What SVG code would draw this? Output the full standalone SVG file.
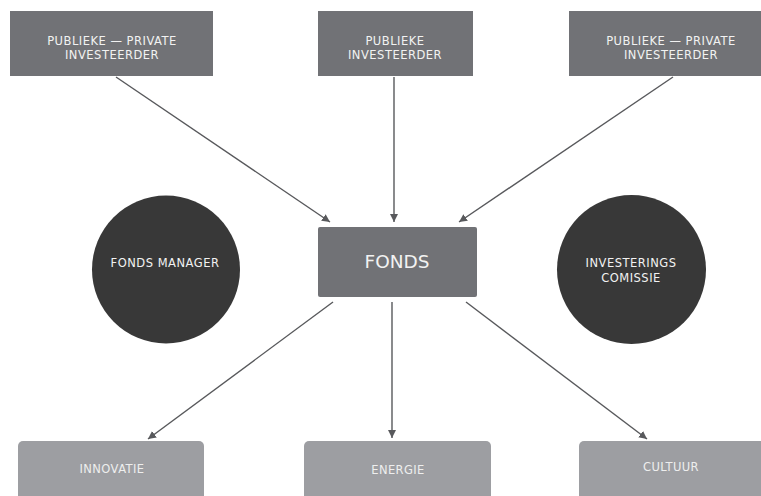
<svg xmlns="http://www.w3.org/2000/svg" width="761" height="496" viewBox="0 0 761 496">
<style>
.top{fill:#717276}
.bot{fill:#9d9ea2}
.circ{fill:#383838}
.t{font-family:"DejaVu Sans","Liberation Sans",sans-serif;fill:#f2f2f2;text-anchor:middle}
.s{font-size:11.5px;letter-spacing:0.5px}
.b{font-size:11.5px;letter-spacing:0.4px;fill:#eeeeee}
.con line{stroke:#58595c;stroke-width:1.4;marker-end:url(#ah)}
</style>
<defs>
<marker id="ah" viewBox="0 0 10 10" refX="10" refY="5" markerWidth="8" markerHeight="8" markerUnits="userSpaceOnUse" orient="auto">
<path d="M0,0 L10,5 L0,10 z" fill="#58595c"/>
</marker>
</defs>
<rect width="761" height="496" fill="#ffffff"/>
<g id="inv-left">
<rect class="top" x="10" y="11" width="203" height="65"/>
<text class="t s" x="112" y="45">PUBLIEKE — PRIVATE</text>
<text class="t s" x="112" y="59">INVESTEERDER</text>
</g>
<g id="inv-mid">
<rect class="top" x="318" y="11" width="155" height="65"/>
<text class="t s" x="395" y="45">PUBLIEKE</text>
<text class="t s" x="395" y="59">INVESTEERDER</text>
</g>
<g id="inv-right">
<rect class="top" x="569" y="11" width="204" height="65"/>
<text class="t s" x="671" y="45">PUBLIEKE — PRIVATE</text>
<text class="t s" x="671" y="59">INVESTEERDER</text>
</g>
<g id="fonds-manager">
<circle class="circ" cx="166" cy="269.5" r="74"/>
<text class="t s" x="165" y="267">FONDS MANAGER</text>
</g>
<g id="fonds">
<rect class="top" x="318" y="227" width="159" height="70" rx="2"/>
<text class="t" x="397" y="268" font-size="18.5">FONDS</text>
</g>
<g id="investerings-comissie">
<circle class="circ" cx="631.5" cy="269.5" r="74.5"/>
<text class="t s" x="631" y="267">INVESTERINGS</text>
<text class="t s" x="631" y="282">COMISSIE</text>
</g>
<g id="innovatie">
<rect class="bot" x="18" y="441" width="186" height="60" rx="5"/>
<text class="t b" x="112" y="473">INNOVATIE</text>
</g>
<g id="energie">
<rect class="bot" x="304" y="441" width="187" height="60" rx="5"/>
<text class="t b" x="398" y="474">ENERGIE</text>
</g>
<g id="cultuur">
<rect class="bot" x="579" y="441" width="186" height="60" rx="5"/>
<text class="t b" x="671" y="471">CULTUUR</text>
</g>
<g id="connectors" class="con">
<line x1="116" y1="77" x2="330" y2="222"/>
<line x1="394" y1="77" x2="394" y2="222"/>
<line x1="673" y1="77" x2="459" y2="222"/>
<line x1="333" y1="302" x2="148" y2="439"/>
<line x1="392" y1="302" x2="392" y2="438"/>
<line x1="466" y1="302" x2="647" y2="439"/>
</g>
</svg>
